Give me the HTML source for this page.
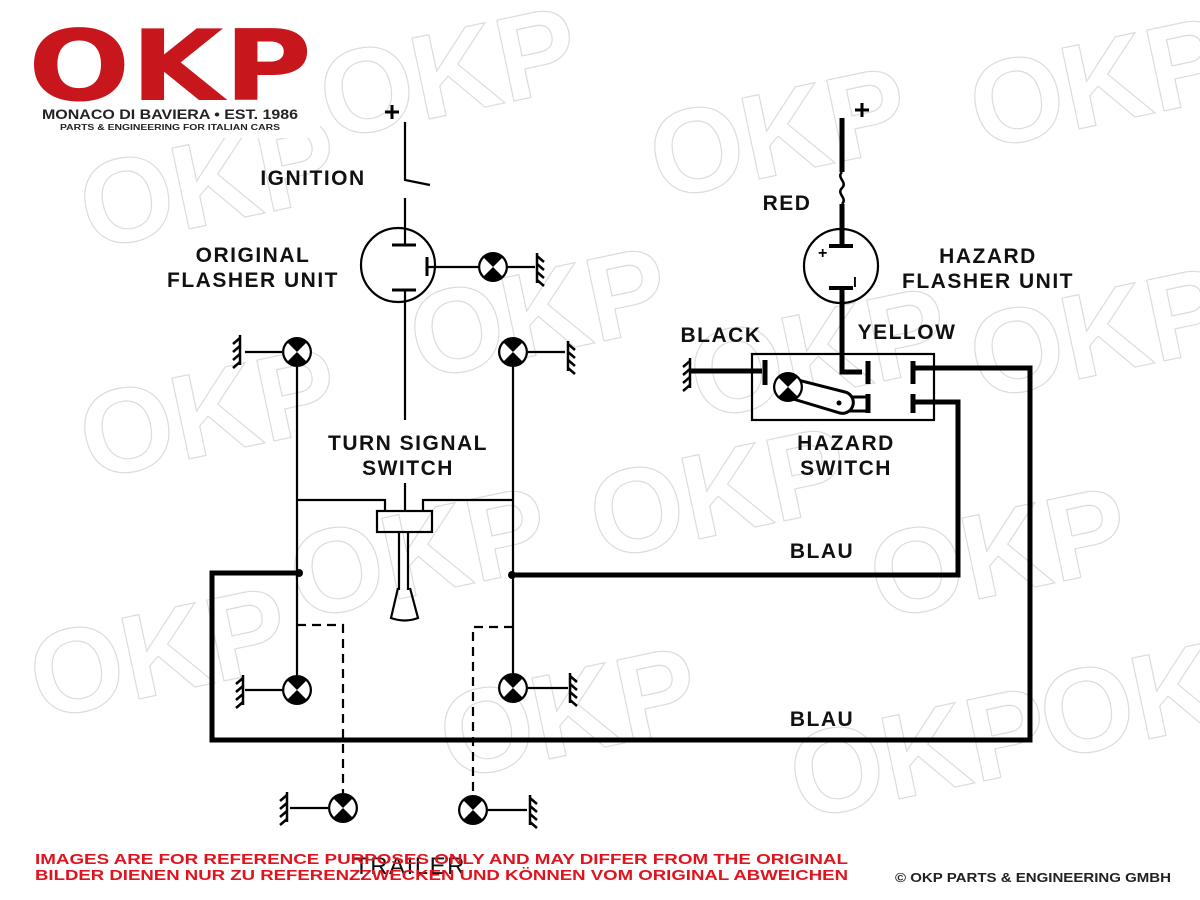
<!DOCTYPE html>
<html><head><meta charset="utf-8"><style>
html,body{margin:0;padding:0;background:#fff}
svg{display:block}
.t{font-family:"Liberation Sans",sans-serif;font-weight:bold;font-size:21px;letter-spacing:1.5px;fill:#111}
.wm{font-family:"Liberation Sans",sans-serif;font-weight:bold;font-size:120px;fill:none;stroke:#dcdcdc;stroke-width:1.2}
.lf{font-family:"Liberation Sans",sans-serif;font-weight:bold}
.logo{font-family:"DejaVu Sans",sans-serif;font-weight:bold}
</style></head><body>
<svg width="1200" height="900" viewBox="0 0 1200 900" xmlns="http://www.w3.org/2000/svg">
<defs>
<g id="lamp">
<circle r="15" fill="#000"/>
<path d="M0 0 L-9 -9 A12.7 12.7 0 0 0 -9 9 Z" fill="#fff"/>
<path d="M0 0 L9 -9 A12.7 12.7 0 0 1 9 9 Z" fill="#fff"/>
</g>
<g id="gl" stroke="#000" stroke-width="2.5" fill="none">
<path d="M0 -15 V15"/>
<path d="M0 -12 l-7 6 M0 -4 l-7 6 M0 4 l-7 6 M0 12 l-7 6"/>
</g>
<g id="gr" stroke="#000" stroke-width="2.5" fill="none">
<path d="M0 -15 V15"/>
<path d="M0 -12 l7 6 M0 -4 l7 6 M0 4 l7 6 M0 12 l7 6"/>
</g>
</defs>
<rect width="1200" height="900" fill="#fff"/>
<!-- watermarks -->
<g>
<text class="wm" x="330" y="140" transform="rotate(-12 330 140)">OKP</text>
<text class="wm" x="660" y="200" transform="rotate(-12 660 200)">OKP</text>
<text class="wm" x="980" y="150" transform="rotate(-12 980 150)">OKP</text>
<text class="wm" x="90" y="250" transform="rotate(-12 90 250)">OKP</text>
<text class="wm" x="90" y="480" transform="rotate(-12 90 480)">OKP</text>
<text class="wm" x="420" y="380" transform="rotate(-12 420 380)">OKP</text>
<text class="wm" x="700" y="420" transform="rotate(-12 700 420)">OKP</text>
<text class="wm" x="980" y="400" transform="rotate(-12 980 400)">OKP</text>
<text class="wm" x="600" y="560" transform="rotate(-12 600 560)">OKP</text>
<text class="wm" x="300" y="620" transform="rotate(-12 300 620)">OKP</text>
<text class="wm" x="880" y="620" transform="rotate(-12 880 620)">OKP</text>
<text class="wm" x="40" y="720" transform="rotate(-12 40 720)">OKP</text>
<text class="wm" x="450" y="780" transform="rotate(-12 450 780)">OKP</text>
<text class="wm" x="800" y="820" transform="rotate(-12 800 820)">OKP</text>
<text class="wm" x="1050" y="760" transform="rotate(-12 1050 760)">OKP</text>
</g>
<!-- logo -->
<rect x="20" y="20" width="300" height="118" fill="#fff"/>
<text class="logo" x="28" y="100" font-size="98" fill="#c8161d" textLength="284" lengthAdjust="spacingAndGlyphs">OKP</text>
<text class="lf" x="42" y="119" font-size="14" fill="#222" textLength="256" lengthAdjust="spacingAndGlyphs">MONACO DI BAVIERA • EST. 1986</text>
<text class="lf" x="60" y="130" font-size="8" fill="#222" textLength="220" lengthAdjust="spacingAndGlyphs">PARTS &amp; ENGINEERING FOR ITALIAN CARS</text>

<g stroke="#000" fill="none" stroke-width="2.2">
<path d="M385 112 h14 M392 105 v14" stroke-width="3"/>
<path d="M405 122 V180 L430 185"/>
<path d="M405 198 V245"/>
<circle cx="398" cy="265" r="37"/>
<path d="M392 245 H416" stroke-width="3"/>
<path d="M427 257 V276" stroke-width="3"/>
<path d="M427 267 H479"/>
<path d="M508 267 H535"/>
<path d="M392 290 H416" stroke-width="3"/>
<path d="M405 290 V420 M405 483 V512"/>
<path d="M245 352 H282 M528 352 H565"/>
<path d="M297 366 V675 M513 366 V673"/>
<path d="M297 500 H385 V511 M513 500 H423 V511"/>
<rect x="377" y="511" width="55" height="21"/>
<path d="M399 532 V590 M408 532 V590"/>
<path d="M398 588 L391 618 Q405 623 418 618 L410 588"/>
<path d="M245 690 H282 M528 688 H568"/>
<path d="M297 625 H343 V793 M513 627 H473 V795" stroke-dasharray="9 6"/>
<path d="M290 808 H328 M488 810 H527"/>
<path d="M299 573 H212 V740 H1030 V368 H915" stroke-width="5"/>
<path d="M512 575 H958 V402 H915" stroke-width="5"/>
<path d="M855 110 h14 M862 103 v14" stroke-width="3"/>
<path d="M842 118 V172" stroke-width="5"/>
<path d="M842 172 c-6 6 6 10 0 16 c-6 6 6 10 0 16" stroke-width="2.5"/>
<path d="M842 204 V246" stroke-width="5"/>
<circle cx="841" cy="266" r="37"/>
<path d="M829 246 H853" stroke-width="4"/>
<path d="M829 288 H853" stroke-width="4"/>
<path d="M842 288 V372 H862" stroke-width="5"/>
<rect x="752" y="354" width="182" height="66"/>
<path d="M690 371 H762" stroke-width="5"/>
<path d="M765 360 V385" stroke-width="5"/>
<path d="M868 361 V384" stroke-width="5"/>
<path d="M868 394 V413" stroke-width="5"/>
<path d="M913 361 V384" stroke-width="5"/>
<path d="M913 394 V413" stroke-width="5"/>
<path d="M850 397 H866 M850 411 H866" stroke-width="3"/>
</g>
<path d="M790 378 L845 392 A10 10 0 0 1 840 413 L790 398 Z" fill="#fff" stroke="#000" stroke-width="3"/>
<circle cx="839" cy="403" r="2.5" fill="#000"/>
<use href="#lamp" x="788" y="387"/>
<use href="#gl" x="690" y="373"/>
<text class="lf" x="818" y="258" font-size="16" fill="#000">+</text>
<text class="lf" x="853" y="287" font-size="14" fill="#000">l</text>

<circle cx="299" cy="573" r="4" fill="#000"/>
<circle cx="512" cy="575" r="4" fill="#000"/>

<use href="#lamp" x="493" y="267"/>
<use href="#gr" x="537" y="268"/>
<use href="#lamp" x="297" y="352"/>
<use href="#gl" x="240" y="350"/>
<use href="#lamp" x="513" y="352"/>
<use href="#gr" x="568" y="356"/>
<use href="#lamp" x="297" y="690"/>
<use href="#gl" x="243" y="690"/>
<use href="#lamp" x="513" y="688"/>
<use href="#gr" x="570" y="688"/>
<use href="#lamp" x="343" y="808"/>
<use href="#gl" x="287" y="807"/>
<use href="#lamp" x="473" y="810"/>
<use href="#gr" x="530" y="810"/>

<text class="t" x="313" y="185" text-anchor="middle">IGNITION</text>
<text class="t" x="253" y="262" text-anchor="middle">ORIGINAL</text>
<text class="t" x="253" y="287" text-anchor="middle">FLASHER UNIT</text>
<text class="t" x="408" y="450" text-anchor="middle">TURN SIGNAL</text>
<text class="t" x="408" y="475" text-anchor="middle">SWITCH</text>
<text class="t" x="787" y="210" text-anchor="middle">RED</text>
<text class="t" x="988" y="263" text-anchor="middle">HAZARD</text>
<text class="t" x="988" y="288" text-anchor="middle">FLASHER UNIT</text>
<text class="t" x="721" y="342" text-anchor="middle">BLACK</text>
<text class="t" x="907" y="339" text-anchor="middle">YELLOW</text>
<text class="t" x="846" y="450" text-anchor="middle">HAZARD</text>
<text class="t" x="846" y="475" text-anchor="middle">SWITCH</text>
<text class="t" x="822" y="558" text-anchor="middle">BLAU</text>
<text class="t" x="822" y="726" text-anchor="middle">BLAU</text>
<text class="t" x="410" y="874" text-anchor="middle" style="font-weight:normal;font-size:24px">TRAILER</text>

<text class="lf" x="35" y="864" font-size="15" fill="#e0141e" textLength="813" lengthAdjust="spacingAndGlyphs">IMAGES ARE FOR REFERENCE PURPOSES ONLY AND MAY DIFFER FROM THE ORIGINAL</text>
<text class="lf" x="35" y="880" font-size="15" fill="#e0141e" textLength="813" lengthAdjust="spacingAndGlyphs">BILDER DIENEN NUR ZU REFERENZZWECKEN UND KÖNNEN VOM ORIGINAL ABWEICHEN</text>
<text class="lf" x="895" y="882" font-size="13" fill="#222" textLength="276" lengthAdjust="spacingAndGlyphs">© OKP PARTS &amp; ENGINEERING GMBH</text>
</svg>
</body></html>
